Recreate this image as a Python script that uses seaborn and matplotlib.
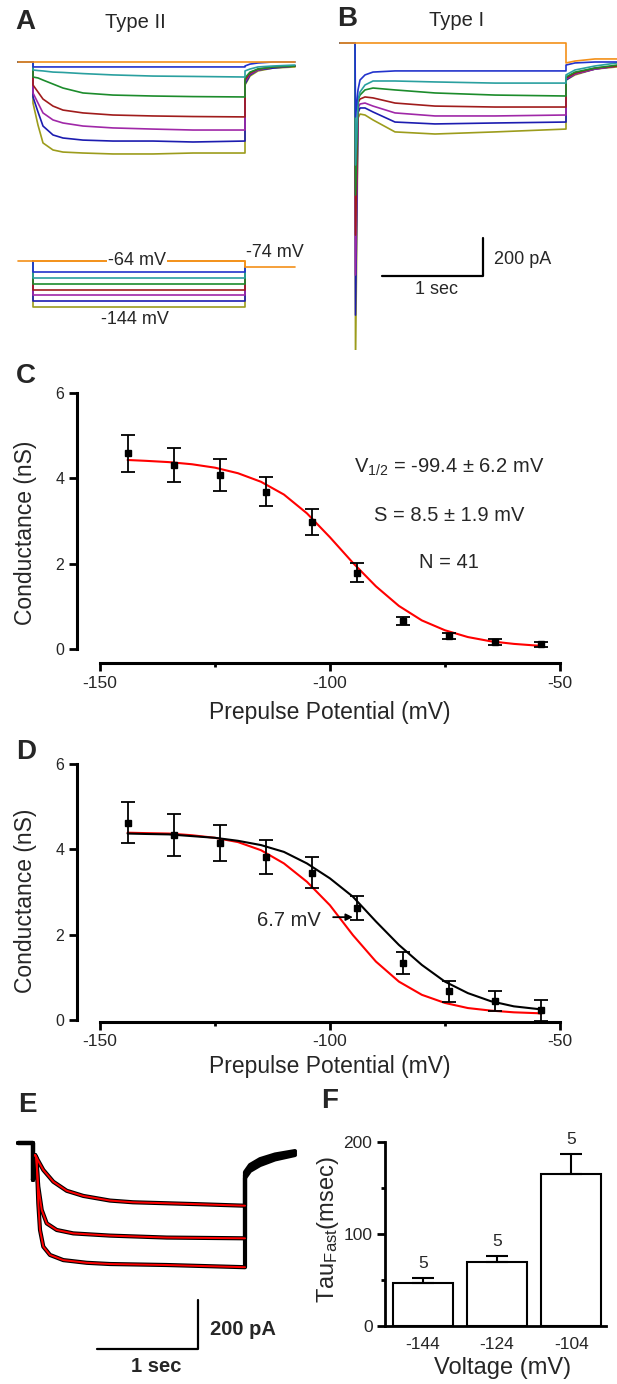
import matplotlib
matplotlib.use("Agg")
import matplotlib.pyplot as plt
import seaborn as sns

sns.set_theme(style="white")
plt.rcParams["font.family"] = ["Liberation Sans", "DejaVu Sans"]
plt.rcParams["mathtext.fontset"] = "custom"
plt.rcParams["mathtext.rm"] = "Liberation Sans"
plt.rcParams["mathtext.it"] = "Liberation Sans:italic"
plt.rcParams["axes.unicode_minus"] = False

# ---------------- data ----------------
trace_colors = ["#f39019", "#2233cc", "#2aa0a0", "#1c8c2c", "#a01c1c", "#a028a8", "#1c1cb0", "#9c9c1c"]
step_mV = [-64, -84, -94, -104, -114, -124, -134, -144]

# panel A: Type II currents (s, pA)
A_t = [-0.15, 0, 0, 0.05, 0.1, 0.2, 0.3, 0.5, 0.8, 1.2, 1.6, 2.12, 2.12, 2.17, 2.25, 2.4, 2.62]
A_pA = [
    [0, 0, 0, 0, 0, 0, 0, 0, 0, 0, 0, 0, 0, 0, 0, 0, 0],
    [0, 0, -26, -26, -26, -26, -26, -26, -26, -26, -26, -26, -21, -11, -5, 0, 0],
    [0, 0, -42, -45, -47, -53, -55, -61, -68, -74, -76, -79, -47, -37, -26, -21, -16],
    [0, 0, -79, -84, -95, -116, -137, -163, -174, -179, -182, -184, -84, -53, -37, -26, -21],
    [0, 0, -121, -158, -195, -232, -253, -268, -279, -284, -287, -289, -95, -58, -37, -26, -21],
    [0, 0, -163, -216, -268, -305, -321, -337, -347, -353, -358, -358, -105, -63, -42, -26, -21],
    [0, 0, -184, -263, -337, -384, -400, -411, -416, -416, -421, -416, -116, -68, -42, -32, -21],
    [0, 0, -216, -332, -426, -463, -474, -479, -484, -484, -479, -479, -121, -74, -47, -32, -26],
]

# panel B: Type I currents (s, pA)
B_t = [-0.15, 0, 0.005, 0.03, 0.05, 0.1, 0.18, 0.4, 0.8, 1.4, 2.11, 2.11, 2.2, 2.4, 2.62]
B_pA = [
    [0, 0, 0, 0, 0, 0, 0, 0, 0, 0, 0, -105, -95, -84, -84],
    [0, 0, -389, -247, -195, -168, -153, -147, -147, -147, -147, -116, -105, -100, -100],
    [0, 0, -642, -300, -258, -221, -200, -200, -205, -211, -211, -168, -142, -121, -105],
    [0, 0, -800, -300, -274, -247, -237, -247, -263, -274, -279, -179, -153, -132, -116],
    [0, 0, -1011, -316, -295, -284, -289, -316, -332, -337, -337, -184, -158, -132, -121],
    [0, 0, -1221, -342, -321, -316, -332, -368, -384, -384, -379, -189, -163, -137, -121],
    [0, 0, -1432, -368, -342, -342, -363, -416, -426, -421, -416, -195, -163, -137, -121],
    [0, 0, -1700, -395, -374, -379, -405, -468, -479, -468, -453, -195, -168, -137, -126],
]

# panels C, D: activation curves
V = [-144, -134, -124, -114, -104, -94, -84, -74, -64, -54]
G_C = [4.59, 4.31, 4.08, 3.69, 2.98, 1.79, 0.66, 0.30, 0.17, 0.11]
err_C = [0.43, 0.39, 0.38, 0.34, 0.31, 0.22, 0.10, 0.07, 0.07, 0.06]
G_D = [4.62, 4.33, 4.15, 3.82, 3.45, 2.62, 1.33, 0.67, 0.44, 0.23]
err_D = [0.48, 0.49, 0.43, 0.40, 0.36, 0.28, 0.26, 0.24, 0.23, 0.25]
fit_v = [-144, -140, -135, -130, -125, -120, -115, -110, -105, -100,
         -95, -90, -85, -80, -75, -70, -65, -60, -55, -54]
fit_C = [4.43, 4.41, 4.38, 4.33, 4.25, 4.12, 3.92, 3.62, 3.18, 2.62,
         2.02, 1.47, 1.01, 0.67, 0.44, 0.28, 0.18, 0.12, 0.08, 0.08]
fit_D_red = [4.39, 4.38, 4.37, 4.33, 4.27, 4.17, 3.98, 3.67, 3.24, 2.69,
             1.99, 1.37, 0.90, 0.59, 0.40, 0.28, 0.22, 0.18, 0.16, 0.15]
fit_D_black = [4.37, 4.36, 4.35, 4.31, 4.27, 4.20, 4.10, 3.94, 3.67, 3.32,
               2.89, 2.31, 1.76, 1.29, 0.90, 0.63, 0.44, 0.32, 0.26, 0.25]

# panel E: three currents with fits (s, pA)
E_pre_t = [-0.15, 0, 0]
E_pre_pA = [0, 0, -151]
E_t = [
    [0.02, 0.103, 0.203, 0.337, 0.503, 0.77, 1.0, 1.337, 1.67, 2.12],
    [0.02, 0.03, 0.053, 0.087, 0.137, 0.237, 0.403, 0.77, 1.337, 2.12],
    [0.02, 0.037, 0.053, 0.07, 0.103, 0.17, 0.303, 0.537, 0.77, 1.337, 2.12],
]
E_pA = [
    [-49, -110, -158, -195, -216, -235, -242, -246, -250, -256],
    [-49, -56, -178, -273, -328, -355, -369, -378, -386, -389],
    [-49, -62, -246, -355, -423, -457, -478, -489, -494, -498, -507],
]
E_tail_t = [2.12, 2.17, 2.27, 2.42, 2.62]
E_tail_pA = [
    [-119, -90, -66, -47, -33],
    [-131, -102, -78, -57, -41],
    [-143, -114, -90, -67, -49],
]

# panel F: tau fast
F_volt = ["-144", "-124", "-104"]
F_tau = [47, 70, 165]
F_err = [5, 6, 22]
F_n = [5, 5, 5]

# ---------------- figure ----------------
W, H = 617, 1384
fig = plt.figure(figsize=(W / 100, H / 100), dpi=100)


def box(x0, y0, x1, y1):
    return fig.add_axes([x0 / W, 1 - y1 / H, (x1 - x0) / W, (y1 - y0) / H])


def ftext(x, y, s, **kw):
    kw.setdefault("ha", "center")
    kw.setdefault("va", "center")
    fig.text(x / W, 1 - y / H, s, **kw)


# panel letters
for lab, x, y in [("A", 25, 22), ("B", 347, 19), ("C", 26, 376), ("D", 26, 752),
                  ("E", 27, 1105), ("F", 330, 1101)]:
    ftext(x, y, lab, fontsize=20, fontweight="bold")

# ---- A ----
axA = box(0, 40, 310, 240)
axA.set_xlim(-0.33, 2.77)
axA.set_ylim(-936.8, 115.8)
axA.axis("off")
for i in reversed(range(len(A_pA))):
    axA.plot(A_t, A_pA[i], color=trace_colors[i], lw=1.2)
ftext(135, 22, "Type II", fontsize=14.5)

axAp = box(0, 245, 310, 335)
axAp.set_xlim(-0.33, 2.77)
axAp.set_ylim(-192.7, -36.2)
axAp.axis("off")
for i in reversed(range(len(step_mV))):
    v = step_mV[i]
    axAp.plot([0, 0, 2.12, 2.12], [-64, v, v, -74], color=trace_colors[i], lw=1.2)
axAp.plot([-0.15, 2.12, 2.12, 2.62], [-64, -64, -74, -74], color=trace_colors[0], lw=1.2)
axAp.text(1.04, -64, "-64 mV", fontsize=13, ha="center", va="center",
          bbox=dict(facecolor="white", edgecolor="none", pad=1))
axAp.text(2.42, -50.1, "-74 mV", fontsize=13, ha="center", va="center")
axAp.text(1.02, -166.6, "-144 mV", fontsize=13, ha="center", va="center")

# ---- B ----
axB = box(330, 30, 617, 350)
axB.set_xlim(-0.25, 2.62)
axB.set_ylim(-1615.8, 68.4)
axB.axis("off")
for i in reversed(range(len(B_pA))):
    axB.plot(B_t, B_pA[i], color=trace_colors[i], lw=1.2)
axB.plot([0.27, 1.28, 1.28], [-1226, -1226, -1026], color="black", lw=1.6)
axB.text(1.39, -1142, "200 pA", fontsize=13, ha="left", va="center")
axB.text(0.82, -1300, "1 sec", fontsize=13, ha="center", va="center")
ftext(457, 20, "Type I", fontsize=14.5)


# ---- C / D ----
def style_iv(ax):
    ax.set_xlim(-155, -46.7)
    for s in ["top", "right"]:
        ax.spines[s].set_visible(False)
    for s in ["left", "bottom"]:
        ax.spines[s].set_linewidth(2.2)
        ax.spines[s].set_color("black")
    ax.spines["left"].set_bounds(0, 6)
    ax.spines["bottom"].set_bounds(-150, -50)
    ax.set_yticks([0, 2, 4, 6])
    ax.set_xticks([-150, -100, -50])
    ax.set_xticks([-125, -75], minor=True)
    ax.tick_params(axis="both", which="major", direction="out", length=6, width=2,
                   bottom=True, left=True, color="black", pad=3)
    ax.tick_params(axis="x", which="minor", direction="out", length=3, width=2,
                   bottom=True, color="black")
    ax.tick_params(axis="y", labelsize=11.5)
    ax.tick_params(axis="x", labelsize=12.5)
    ax.set_xlabel("")
    ax.set_ylabel("")


axC = box(77, 393, 575, 663)
sns.lineplot(x=fit_v, y=fit_C, ax=axC, color="red", lw=1.5, estimator=None, sort=False, zorder=2)
axC.errorbar(V, G_C, yerr=err_C, fmt="s", ms=5, color="black", ecolor="black",
             elinewidth=1.3, capsize=5, capthick=1.3, zorder=3)
axC.set_ylim(-0.328, 6)
style_iv(axC)
axC.text(-74.1, 4.26, r"V$_{\rm 1/2}$ = -99.4 ± 6.2 mV", fontsize=14.5, ha="center", va="center")
axC.text(-74.1, 3.14, "S = 8.5 ± 1.9 mV", fontsize=14.5, ha="center", va="center")
axC.text(-74.1, 2.02, "N = 41", fontsize=14.5, ha="center", va="center")
ftext(330, 712, "Prepulse Potential (mV)", fontsize=16.5)
ftext(26, 533, "Conductance (nS)", fontsize=16.5, rotation=90)

axD = box(77, 764, 575, 1022)
sns.lineplot(x=fit_v, y=fit_D_red, ax=axD, color="red", lw=1.5, estimator=None, sort=False, zorder=2)
sns.lineplot(x=fit_v, y=fit_D_black, ax=axD, color="black", lw=1.5, estimator=None, sort=False, zorder=2)
axD.errorbar(V, G_D, yerr=err_D, fmt="s", ms=5, color="black", ecolor="black",
             elinewidth=1.3, capsize=5, capthick=1.3, zorder=3)
axD.set_ylim(-0.047, 6)
style_iv(axD)
axD.annotate("", xy=(-95.0, 2.41), xytext=(-99.3, 2.41),
             arrowprops=dict(arrowstyle="-|>", lw=1.3, color="black", mutation_scale=10,
                             shrinkA=0, shrinkB=0))
axD.text(-108.9, 2.33, "6.7 mV", fontsize=14.5, ha="center", va="center")
ftext(330, 1067, "Prepulse Potential (mV)", fontsize=16.5)
ftext(26, 901, "Conductance (nS)", fontsize=16.5, rotation=90)

# ---- E ----
axE = box(0, 1100, 310, 1384)
axE.set_xlim(-0.33, 2.77)
axE.set_ylim(-983.7, 175.5)
axE.axis("off")
for k in range(3):
    axE.plot(E_pre_t + E_t[k] + E_tail_t, E_pre_pA + E_pA[k] + E_tail_pA[k],
             color="black", lw=3.0, solid_joinstyle="round")
for k in range(3):
    axE.plot(E_t[k], E_pA[k], color="red", lw=1.4)
axE.plot([0.64, 1.65, 1.65], [-840.8, -840.8, -640.8], color="black", lw=1.6)
axE.text(1.77, -763, "200 pA", fontsize=14.5, fontweight="bold", ha="left", va="center")
axE.text(1.23, -914, "1 sec", fontsize=14.5, fontweight="bold", ha="center", va="center")

# ---- F ----
axF = box(385, 1142, 606, 1326)
sns.barplot(x=F_volt, y=F_tau, ax=axF, color="white", saturation=1, edgecolor="black",
            linewidth=1.5, width=0.81, errorbar=None)
axF.errorbar(range(3), F_tau, yerr=[[0, 0, 0], F_err], fmt="none", ecolor="black",
             elinewidth=1.5, capsize=8, capthick=1.5)
for i in range(3):
    axF.text(i, F_tau[i] + F_err[i] + 16, str(F_n[i]), fontsize=12.5, ha="center", va="center")
axF.set_xlim(-0.51, 2.47)
axF.set_ylim(0, 200)
for s in ["top", "right"]:
    axF.spines[s].set_visible(False)
for s in ["left", "bottom"]:
    axF.spines[s].set_linewidth(2)
    axF.spines[s].set_color("black")
axF.set_yticks([0, 100, 200])
axF.set_yticks([50, 150], minor=True)
axF.tick_params(axis="y", which="major", direction="out", length=6, width=2, left=True,
                labelsize=12.5, pad=3, color="black")
axF.tick_params(axis="y", which="minor", direction="out", length=3, width=2, left=True, color="black")
axF.tick_params(axis="x", length=0, labelsize=12.5, pad=8)
axF.set_xlabel("")
axF.set_ylabel("")
ftext(503, 1368, "Voltage (mV)", fontsize=17)
ftext(328, 1230, r"Tau$_{\rm Fast}$(msec)", fontsize=17, rotation=90)

fig.savefig("out.png", dpi=100)
